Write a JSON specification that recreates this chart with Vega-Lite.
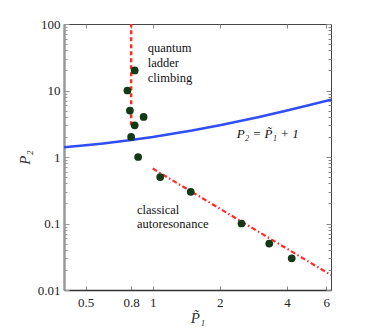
{
  "$schema": "https://vega.github.io/schema/vega-lite/v6.json",
  "width": 267,
  "height": 266,
  "autosize": {"type": "none"},
  "padding": {"left": 64, "top": 24, "right": 51, "bottom": 38},
  "background": "white",
  "config": {
    "view": {"stroke": "#444", "strokeWidth": 1},
    "font": "Liberation Serif"
  },
  "datasets": {
    "pts": [
      {"p1": 0.83, "p2": 20},
      {"p1": 0.77, "p2": 10},
      {"p1": 0.79, "p2": 5},
      {"p1": 0.91, "p2": 4},
      {"p1": 0.83, "p2": 3},
      {"p1": 0.80, "p2": 2},
      {"p1": 0.86, "p2": 1},
      {"p1": 1.08, "p2": 0.5},
      {"p1": 1.48, "p2": 0.3},
      {"p1": 2.5, "p2": 0.1},
      {"p1": 3.33, "p2": 0.05},
      {"p1": 4.2, "p2": 0.03}
    ],
    "blue": [
      {"p1": 0.4, "p2": 1.4},
      {"p1": 0.5, "p2": 1.5},
      {"p1": 0.6, "p2": 1.6},
      {"p1": 0.8, "p2": 1.8},
      {"p1": 1, "p2": 2},
      {"p1": 1.5, "p2": 2.5},
      {"p1": 2, "p2": 3},
      {"p1": 3, "p2": 4},
      {"p1": 4, "p2": 5},
      {"p1": 5, "p2": 6},
      {"p1": 6.3, "p2": 7.3}
    ],
    "vert": [
      {"p1": 0.8, "p2": 3},
      {"p1": 0.8, "p2": 100}
    ],
    "dd": [
      {"p1": 1.0, "p2": 0.67},
      {"p1": 6.3, "p2": 0.0168}
    ],
    "labels": [
      {"p1": 0.95, "p2": 44, "t": "quantum"},
      {"p1": 0.95, "p2": 25.5, "t": "ladder"},
      {"p1": 0.95, "p2": 15.2, "t": "climbing"},
      {"p1": 0.85, "p2": 0.16, "t": "classical"},
      {"p1": 0.85, "p2": 0.097, "t": "autoresonance"}
    ],
    "eq": [
      {"p1": 2.38, "p2": 2.19, "t": "P₂ = P̃₁ + 1"}
    ]
  },
  "resolve": {"axis": {"x": "independent", "y": "independent"}},
  "layer": [
    {
      "data": {"name": "blue"},
      "mark": {"type": "line", "color": "#2f4ef5", "strokeWidth": 2.5, "clip": true},
      "encoding": {
        "x": {
          "field": "p1", "type": "quantitative",
          "scale": {"type": "log", "domain": [0.4, 6.3], "nice": false},
          "axis": {
            "orient": "bottom",
            "values": [0.5, 0.8, 1, 2, 4, 6],
            "labelExpr": "format(datum.value, '~g')",
            "grid": false,
            "domainColor": "#333",
            "domainWidth": 1.5,
            "tickColor": "#888",
            "tickSize": -4,
            "labelPadding": 10,
            "labelFont": "Liberation Serif",
            "labelFontSize": 13,
            "labelColor": "#222",
            "title": "P̃₁",
            "titleFont": "Liberation Serif",
            "titleFontStyle": "italic",
            "titleFontWeight": "normal",
            "titleFontSize": 15,
            "titleColor": "#333",
            "titlePadding": 1
          }
        },
        "y": {
          "field": "p2", "type": "quantitative",
          "scale": {"type": "log", "domain": [0.01, 100], "nice": false},
          "axis": {
            "orient": "left",
            "values": [0.01, 0.02, 0.03, 0.04, 0.05, 0.06, 0.07, 0.08, 0.09, 0.1, 0.2, 0.3, 0.4, 0.5, 0.6, 0.7, 0.8, 0.9, 1, 2, 3, 4, 5, 6, 7, 8, 9, 10, 20, 30, 40, 50, 60, 70, 80, 90, 100],
            "labelExpr": "indexof([0.01, 0.1, 1, 10, 100], datum.value) >= 0 ? format(datum.value, '~g') : ''",
            "grid": false,
            "domainColor": "#999",
            "domainWidth": 2.5,
            "tickColor": "#999",
            "tickSize": {"condition": {"test": "indexof([0.01, 0.1, 1, 10, 100], datum.value) >= 0", "value": -5}, "value": -3},
            "labelPadding": 9,
            "labelFont": "Liberation Serif",
            "labelFontSize": 13,
            "labelColor": "#222",
            "title": "P₂",
            "titleFont": "Liberation Serif",
            "titleFontStyle": "italic",
            "titleFontWeight": "normal",
            "titleFontSize": 15,
            "titleColor": "#333",
            "titlePadding": 5
          }
        }
      }
    },
    {
      "data": {"name": "vert"},
      "mark": {"type": "line", "color": "#ff2a2a", "strokeWidth": 2.5, "strokeDash": [4, 3], "clip": true},
      "encoding": {
        "x": {
          "field": "p1", "type": "quantitative",
          "axis": {
            "orient": "top",
            "values": [0.5, 0.8, 1, 2, 4, 6],
            "labels": false,
            "grid": false,
            "domain": false,
            "tickColor": "#888",
            "tickSize": -4,
            "title": null
          }
        },
        "y": {
          "field": "p2", "type": "quantitative",
          "axis": {
            "orient": "right",
            "values": [0.01, 0.02, 0.03, 0.04, 0.05, 0.06, 0.07, 0.08, 0.09, 0.1, 0.2, 0.3, 0.4, 0.5, 0.6, 0.7, 0.8, 0.9, 1, 2, 3, 4, 5, 6, 7, 8, 9, 10, 20, 30, 40, 50, 60, 70, 80, 90, 100],
            "labels": false,
            "grid": false,
            "domain": false,
            "tickColor": "#888",
            "tickSize": {"condition": {"test": "indexof([0.01, 0.1, 1, 10, 100], datum.value) >= 0", "value": -5}, "value": -3},
            "title": null
          }
        }
      }
    },
    {
      "data": {"name": "dd"},
      "mark": {"type": "line", "color": "#ff2a2a", "strokeWidth": 2.2, "strokeDash": [5, 2.5, 1.5, 2.5], "clip": true},
      "encoding": {
        "x": {"field": "p1", "type": "quantitative", "axis": null},
        "y": {"field": "p2", "type": "quantitative", "axis": null}
      }
    },
    {
      "data": {"name": "pts"},
      "mark": {"type": "circle", "color": "#123a16", "opacity": 1, "size": 60},
      "encoding": {
        "x": {"field": "p1", "type": "quantitative", "axis": null},
        "y": {"field": "p2", "type": "quantitative", "axis": null}
      }
    },
    {
      "data": {"name": "labels"},
      "mark": {"type": "text", "align": "left", "baseline": "middle", "font": "Liberation Serif", "fontSize": 12.5, "color": "#111"},
      "encoding": {
        "x": {"field": "p1", "type": "quantitative", "axis": null},
        "y": {"field": "p2", "type": "quantitative", "axis": null},
        "text": {"field": "t"}
      }
    },
    {
      "data": {"name": "eq"},
      "mark": {"type": "text", "align": "left", "baseline": "middle", "font": "Liberation Serif", "fontSize": 13, "fontStyle": "italic", "color": "#111"},
      "encoding": {
        "x": {"field": "p1", "type": "quantitative", "axis": null},
        "y": {"field": "p2", "type": "quantitative", "axis": null},
        "text": {"field": "t"}
      }
    }
  ]
}
